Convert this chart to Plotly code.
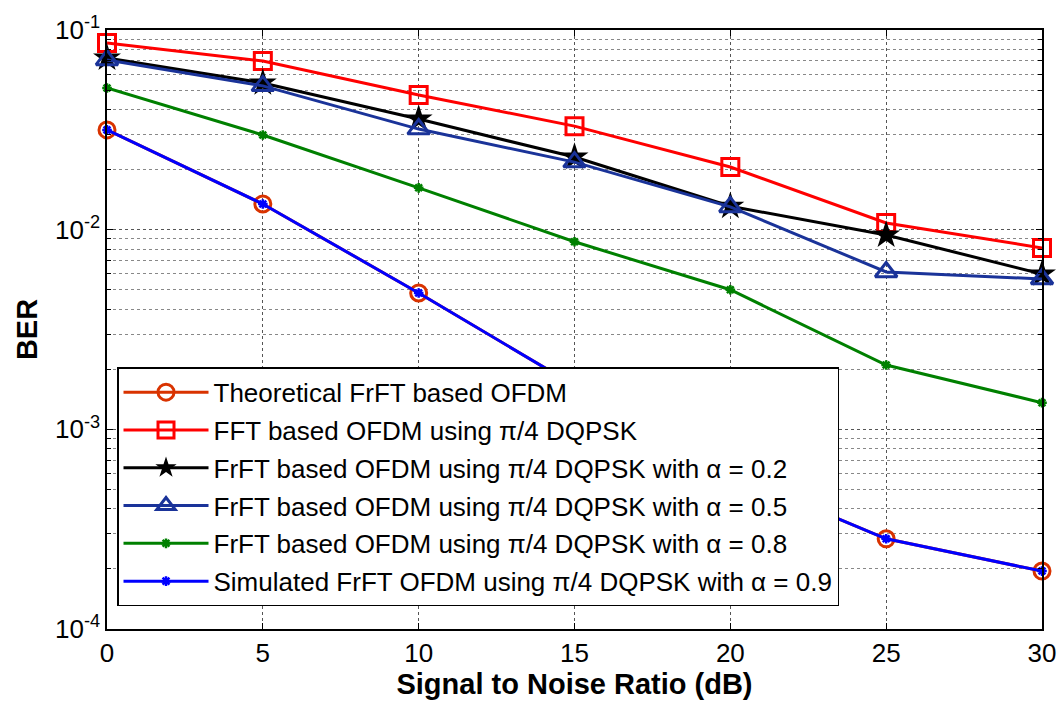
import plotly.graph_objects as go

snr = [0, 5, 10, 15, 20, 25, 30]
theoretical = [0.0316, 0.01345, 0.00482, 0.00166, 0.0006, 0.000283, 0.000195]
fft_dqpsk = [0.0861, 0.070, 0.0473, 0.033, 0.0206, 0.0108, 0.0081]
frft_a02 = [0.0724, 0.0543, 0.0358, 0.0231, 0.0131, 0.0094, 0.0060]
frft_a05 = [0.0708, 0.0525, 0.0319, 0.0218, 0.0130, 0.00614, 0.00566]
frft_a08 = [0.0512, 0.0298, 0.0162, 0.0087, 0.0050, 0.0021, 0.00136]
sim_a09 = [0.0316, 0.01345, 0.00482, 0.00166, 0.0006, 0.000283, 0.000195]

names = [
    "Theoretical FrFT based OFDM",
    "FFT based OFDM using π/4 DQPSK",
    "FrFT based OFDM using π/4 DQPSK with α = 0.2",
    "FrFT based OFDM using π/4 DQPSK with α = 0.5",
    "FrFT based OFDM using π/4 DQPSK with α = 0.8",
    "Simulated FrFT OFDM using π/4 DQPSK with α = 0.9",
]

fig = go.Figure()
series = [
    (theoretical, "#d93300", dict(symbol="circle-open", size=16, line=dict(width=3, color="#d93300"))),
    (fft_dqpsk, "#ff0000", dict(symbol="square-open", size=17, line=dict(width=3, color="#ff0000"))),
    (frft_a02, "#000000", dict(symbol="star", size=21, color="#000000", line=dict(width=0))),
    (frft_a05, "#1a3399", dict(symbol="triangle-up-open", size=19, line=dict(width=3, color="#1a3399"))),
    (frft_a08, "#008000", dict(symbol="asterisk-open", size=8, line=dict(width=2.5, color="#008000"))),
    (sim_a09, "#0000ff", dict(symbol="asterisk-open", size=8, line=dict(width=2.5, color="#0000ff"))),
]
for i, (vals, col, mk) in enumerate(series):
    fig.add_trace(go.Scatter(
        x=snr, y=vals, mode="lines+markers", name=names[i],
        line=dict(color=col, width=3), marker=mk,
        legendgroup=f"g{i}", cliponaxis=False,
    ))

tickvals = [1e-4, 1e-3, 1e-2, 1e-1]
ticktext = ["10<sup>-4</sup>", "10<sup>-3</sup>", "10<sup>-2</sup>", "10<sup>-1</sup>"]

fig.update_layout(
    width=1057, height=704,
    margin=dict(l=107, r=15, t=30, b=75),
    paper_bgcolor="white", plot_bgcolor="white",
    font=dict(family="Liberation Sans, Arial, sans-serif", size=23, color="black"),
    showlegend=True,
    legend=dict(
        x=0.0107, y=0.437, xanchor="left", yanchor="top",
        bgcolor="white", bordercolor="black", borderwidth=1.5,
        font=dict(size=26), tracegroupgap=1, itemwidth=85,
    ),
    xaxis=dict(
        range=[0, 30], tickvals=[0, 5, 10, 15, 20, 25, 30],
        tickfont=dict(size=26), automargin=False,
        showgrid=True, gridcolor="#555555", griddash="dot", gridwidth=1,
        showline=True, linecolor="black", linewidth=1.5, mirror="ticks",
        ticks="inside", ticklen=6, tickcolor="black",
        zeroline=False,
        title=dict(text="<b>Signal to Noise Ratio (dB)</b>", font=dict(size=29), standoff=0),
    ),
    yaxis=dict(
        type="log", range=[-4, -1], tickvals=tickvals, ticktext=ticktext,
        tickfont=dict(size=26), automargin=False,
        showgrid=True, gridcolor="#555555", griddash="dot", gridwidth=1,
        minor=dict(ticks="inside", ticklen=4, tickcolor="black", showgrid=True,
                   gridcolor="#888888", griddash="dot", gridwidth=1,
                   tickvals=[k * 10 ** e for e in (-4, -3, -2) for k in range(2, 10)]),
        showline=True, linecolor="black", linewidth=1.5, mirror="ticks",
        ticks="inside", ticklen=6, tickcolor="black",
        zeroline=False,
        title=dict(text="<b>BER</b>", font=dict(size=29), standoff=9),
    ),
)

fig.write_html("out.html", config={"displayModeBar": False},
               post_script="document.body.style.margin='0px';")
